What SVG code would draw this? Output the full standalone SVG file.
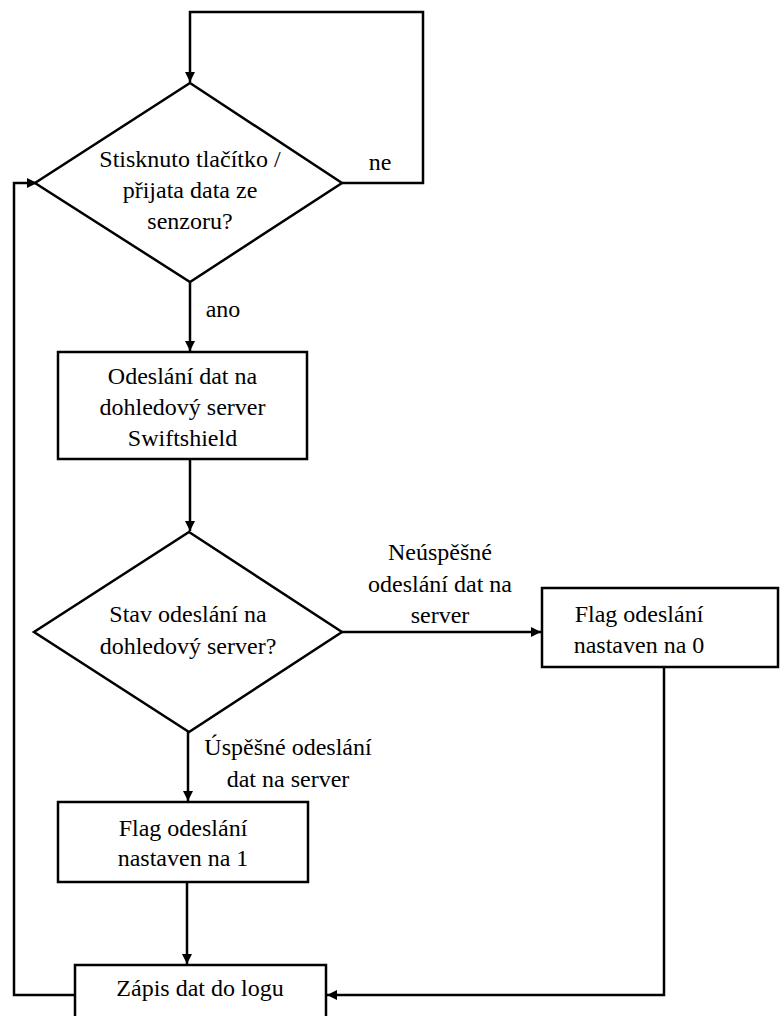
<svg xmlns="http://www.w3.org/2000/svg" width="780" height="1016" viewBox="0 0 780 1016">
<style>
.shape{fill:#fff;stroke:#000;stroke-width:2.5}
.conn{fill:none;stroke:#000;stroke-width:2.5}
.t{font-family:'Liberation Serif',serif;font-size:24px;fill:#000;text-anchor:middle}
</style>
<defs>
<marker id="arr" viewBox="0 0 10 10" refX="10" refY="5" markerWidth="10" markerHeight="10" markerUnits="userSpaceOnUse" orient="auto">
<path d="M0,0 L10,5 L0,10 z" fill="#000"/>
</marker>
</defs>
<rect width="780" height="1016" fill="#fff"/>
<g id="connectors">
<polyline class="conn" points="342,183 423,183 423,12 190,12 190,82" marker-end="url(#arr)"/>
<line class="conn" x1="190" y1="282" x2="190" y2="351" marker-end="url(#arr)"/>
<line class="conn" x1="190" y1="459" x2="190" y2="531" marker-end="url(#arr)"/>
<line class="conn" x1="342" y1="632" x2="541" y2="632" marker-end="url(#arr)"/>
<line class="conn" x1="188" y1="732" x2="188" y2="801" marker-end="url(#arr)"/>
<line class="conn" x1="187" y1="882" x2="187" y2="964" marker-end="url(#arr)"/>
<polyline class="conn" points="664,667 664,995 327,995" marker-end="url(#arr)"/>
<polyline class="conn" points="75,995 14,995 14,183 37,183" marker-end="url(#arr)"/>
<g class="t" font-family="Liberation Serif">
<text x="380" y="170">ne</text>
<text x="223" y="317">ano</text>
<text x="440" y="560">Neúspěšné</text>
<text x="440" y="592">odeslání dat na</text>
<text x="440" y="623">server</text>
<text x="288" y="755">Úspěšné odeslání</text>
<text x="288" y="787">dat na server</text>
</g>
</g>
<g id="decision1">
<polygon class="shape" points="190,83 342,183 190,282 35,183"/>
<g class="t" font-family="Liberation Serif">
<text x="190" y="167">Stisknuto tlačítko /</text>
<text x="190" y="198">přijata data ze</text>
<text x="190" y="229">senzoru?</text>
</g>
</g>
<g id="send">
<rect class="shape" x="58" y="352" width="249" height="107"/>
<g class="t" font-family="Liberation Serif">
<text x="182.5" y="384">Odeslání dat na</text>
<text x="182.5" y="415">dohledový server</text>
<text x="182.5" y="446">Swiftshield</text>
</g>
</g>
<g id="decision2">
<polygon class="shape" points="189,532 342,632 189,732 34,632"/>
<g class="t" font-family="Liberation Serif">
<text x="188" y="622">Stav odeslání na</text>
<text x="188" y="654">dohledový server?</text>
</g>
</g>
<g id="flag0">
<rect class="shape" x="542" y="588" width="236" height="79"/>
<g class="t" font-family="Liberation Serif">
<text x="639" y="622">Flag odeslání</text>
<text x="639" y="653">nastaven na 0</text>
</g>
</g>
<g id="flag1">
<rect class="shape" x="58" y="802" width="250" height="80"/>
<g class="t" font-family="Liberation Serif">
<text x="183" y="836">Flag odeslání</text>
<text x="183" y="866">nastaven na 1</text>
</g>
</g>
<g id="log">
<rect class="shape" x="75" y="965" width="251" height="70"/>
<g class="t" font-family="Liberation Serif">
<text x="200" y="996">Zápis dat do logu</text>
</g>
</g>
</svg>
